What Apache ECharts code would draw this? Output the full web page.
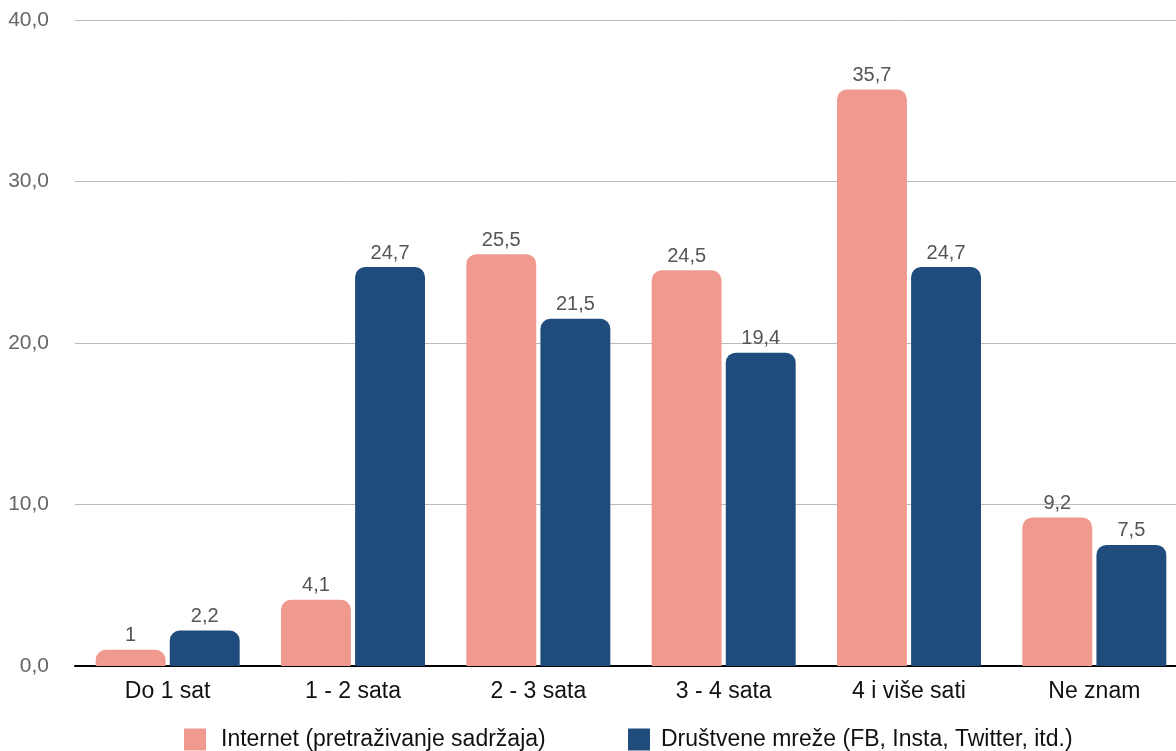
<!DOCTYPE html>
<html>
<head>
<meta charset="utf-8">
<script src="https://cdn.jsdelivr.net/npm/echarts@6/dist/echarts.min.js"></script>
<style>
    html, body { margin: 0; padding: 0; background: #fff; }
    #chart { width: 1176px; height: 751px; }
</style>
</head>
<body>
<div id="chart"></div>
<script>
"use strict";

var categories = ['Do 1 sat', '1 - 2 sata', '2 - 3 sata', '3 - 4 sata', '4 i više sati', 'Ne znam'];
var internet = [1, 4.1, 25.5, 24.5, 35.7, 9.2];
var drustvene = [2.2, 24.7, 21.5, 19.4, 24.7, 7.5];
var seriesNames = ['Internet (pretraživanje sadržaja)', 'Društvene mreže (FB, Insta, Twitter, itd.)'];

function fmt(v) {
    return String(v).replace('.', ',');
}

function legendAt(left, textPad, name) {
    return {
        left: left,
        top: 728,
        padding: 0,
        itemWidth: 22,
        itemHeight: 22,
        icon: 'rect',
        textStyle: { fontSize: 23, color: '#111', padding: [0, 0, 0, textPad] },
        data: [name]
    };
}

var chart = echarts.init(document.getElementById('chart'));
chart.setOption({
    animation: false,
    textStyle: { fontFamily: 'Liberation Sans, Arial, sans-serif' },
    // the plot runs a little past the right edge in the original
    grid: { left: 75, width: 1112, top: 20, bottom: 85, outerBoundsMode: 'none' },
    legend: [
        legendAt(184, 10, seriesNames[0]),
        legendAt(628, 6, seriesNames[1])
    ],
    xAxis: {
        type: 'category',
        data: categories,
        axisTick: { show: false },
        axisLine: { lineStyle: { color: '#000', width: 2 } },
        axisLabel: { fontSize: 23, color: '#111', margin: 14 }
    },
    yAxis: {
        type: 'value',
        min: 0,
        max: 40,
        interval: 10,
        axisLine: { show: false },
        axisTick: { show: false },
        splitLine: { lineStyle: { color: '#bbb' } },
        axisLabel: {
            fontSize: 21,
            color: '#666',
            margin: 26,
            formatter: function (v) { return v.toFixed(1).replace('.', ','); }
        }
    },
    series: [{
        name: seriesNames[0],
        type: 'bar',
        data: internet,
        barGap: '6%',
        barCategoryGap: '22.3%',
        itemStyle: { color: '#F09A8F', borderRadius: [10, 10, 0, 0] },
        label: {
            show: true, position: 'top', distance: 4,
            fontSize: 20, color: '#555',
            formatter: function (p) { return fmt(p.value); }
        }
    }, {
        name: seriesNames[1],
        type: 'bar',
        data: drustvene,
        itemStyle: { color: '#1F4C7C', borderRadius: [10, 10, 0, 0] },
        label: {
            show: true, position: 'top', distance: 4,
            fontSize: 20, color: '#555',
            formatter: function (p) { return fmt(p.value); }
        }
    }]
});
</script>
</body>
</html>
